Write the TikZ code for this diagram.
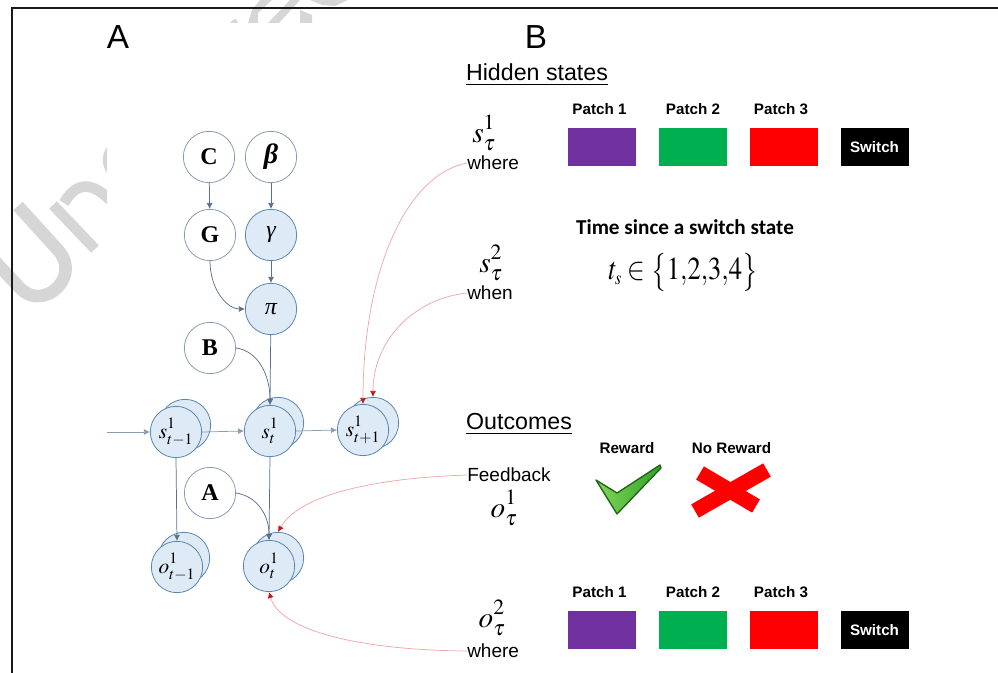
\documentclass[tikz,border=0pt]{standalone}
\usepackage{mathptmx}
\usepackage{graphicx}
\usepackage{fontspec}
\setmainfont{Liberation Sans}
\newfontfamily\timesf{Liberation Serif}
\newfontfamily\calif{Carlito}
\usetikzlibrary{arrows.meta}
\definecolor{nodeline}{HTML}{8A9BB4}
\definecolor{stateline}{HTML}{5B86AE}
\definecolor{statefill}{HTML}{DEEAF6}
\definecolor{wireblue}{HTML}{5C6F8C}
\definecolor{wirered}{HTML}{F2A5A5}
\definecolor{tipred}{HTML}{C81818}
\definecolor{markgray}{HTML}{D6D6D6}
\newcommand{\supsub}[3]{$#1^{\raisebox{.1em}{$\scriptstyle #2$}}_{\raisebox{-.02em}{$\scriptstyle #3$}}$}
\tikzset{
	plainnode/.style={shape=circle, draw=nodeline, fill=white, line width=0.6pt, minimum size=38.5pt, inner sep=0pt, font=\timesf\fontsize{18}{20}\selectfont\bfseries},
	statenode/.style={plainnode, draw=stateline, fill=statefill, font=\fontsize{16}{18}\selectfont},
	wire/.style={draw=wireblue, line width=0.55pt, -{Latex[length=4.5pt,width=4.5pt]}},
	redwire/.style={draw=wirered, line width=0.55pt, -{Latex[color=tipred,length=4.5pt,width=4.5pt]}},
	patchbox/.style={shape=rectangle, minimum width=51pt, minimum height=28.5pt, inner sep=0pt},
	boldlabel/.style={font=\fontsize{11.4}{14}\selectfont\bfseries, inner sep=0pt},
	bodylabel/.style={font=\fontsize{14.25}{17}\selectfont, inner sep=0pt},
	mathlabel/.style={font=\fontsize{22}{25}\selectfont, inner sep=0pt},
	headlabel/.style={font=\fontsize{17.4}{21}\selectfont, inner sep=0pt},
	paneltag/.style={font=\fontsize{25}{30}\selectfont, inner sep=0pt}
}
\begin{document}
\begin{tikzpicture}[x=0.75pt, y=-0.75pt]
	\useasboundingbox (0,0) rectangle (998,673);
	% Background marks and frame:
	\begin{scope}
		\clip (0,120) rectangle (107,320);
		\draw[markgray, line width=9.5pt] (18,206) -- (58,250) .. controls (74,268) and (62,288) .. (48,294) .. controls (36,299) and (26,295) .. (18,286) -- (-12,254);
		\draw[markgray, line width=8pt] (53,205) -- (95,249);
		\draw[markgray, line width=8pt] (64,203) .. controls (74,186) and (88,178) .. (110,200);
		\fill[markgray] (107,147) .. controls (101,155) and (102,166) .. (107,173) -- cycle;
	\end{scope}
	\fill[markgray] (230,23) -- (233,20) -- (236,19) -- (238,23) -- cycle;
	\fill[markgray] (248,23) -- (252,10) -- (260,0) -- (272,0) -- (258,13) -- (258,23) -- cycle;
	\fill[markgray] (268,23) -- (290,0) -- (300,0) -- (279,23) -- cycle;
	\fill[markgray] (300,10) -- (312,15) -- (312,23) -- (300,23) -- cycle;
	\fill[markgray] (310,0) -- (348,0) -- (335,6) -- (322,5) -- cycle;
	\draw[black!90, line width=1.1pt] (998,8) -- (12,8) -- (12,673);
	% Nodes:
	\node[paneltag] (TagA) at (118,37) {A};
	\node[paneltag] (TagB) at (536,37) {B};
	\node[plainnode] (NC) at (209,157) {C};
	\node[plainnode, font=\timesf\fontsize{21}{24}\selectfont\bfseries\itshape] (Nbeta) at (271,157) {β};
	\node[plainnode] (NG) at (210,235) {G};
	\node[statenode, font=\timesf\fontsize{18}{20}\selectfont\itshape] (Ngamma) at (271,235) {γ};
	\node[statenode, font=\timesf\fontsize{18}{20}\selectfont\itshape] (Npi) at (271,309) {π};
	\node[plainnode] (NB) at (210,348) {B};
	\node[plainnode] (NA) at (210,493) {A};
	\node[statenode] (S1b) at (185,425) {};
	\node[statenode] (S1) at (176,432) {\supsub{s}{1}{t-1}};
	\node[statenode] (S2b) at (278,423) {};
	\node[statenode] (S2) at (270,431) {\supsub{s}{1}{t}};
	\node[statenode] (S3b) at (373,423) {};
	\node[statenode] (S3) at (363,430) {\supsub{s}{1}{t+1}};
	\node[statenode] (O1b) at (184,558) {};
	\node[statenode] (O1) at (177,567) {\supsub{o}{1}{t-1}};
	\node[statenode] (O2b) at (278,558) {};
	\node[statenode] (O2) at (269,566) {\supsub{o}{1}{t}};
	\coordinate (Sin) at (107,432);
	\node[headlabel] (Hhidden) at (537,75) {\underline{Hidden states}};
	\node[headlabel] (Houtcomes) at (519,424) {\underline{Outcomes}};
	\node[mathlabel] (Ls1) at (484,133) {\supsub{s}{1}{\tau}};
	\node[bodylabel, anchor=west] (Lwhere1) at (467,163) {where};
	\node[mathlabel] (Ls2) at (491,263) {\supsub{s}{2}{\tau}};
	\node[bodylabel, anchor=west] (Lwhen) at (467,293) {when};
	\node[bodylabel, anchor=west] (Lfeed) at (467,475) {Feedback};
	\node[mathlabel] (Lo1) at (504,508) {\supsub{o}{1}{\tau}};
	\node[mathlabel] (Lo2) at (492,618) {\supsub{o}{2}{\tau}};
	\node[bodylabel, anchor=west] (Lwhere2) at (467,651) {where};
	\node[boldlabel] (P1) at (599.5,109) {Patch 1};
	\node[boldlabel] (P2) at (693,109) {Patch 2};
	\node[boldlabel] (P3) at (781,109) {Patch 3};
	\node[patchbox, fill={rgb,255:red,112;green,48;blue,160}] (R1) at (602,147) {};
	\node[patchbox, fill={rgb,255:red,0;green,176;blue,80}] (R2) at (692.5,147) {};
	\node[patchbox, fill=red] (R3) at (783.5,147) {};
	\node[patchbox, fill=black, text=white, font=\fontsize{11.4}{14}\selectfont\bfseries] (R4) at (874.5,147) {Switch};
	\node[boldlabel] (P4) at (599.5,592) {Patch 1};
	\node[boldlabel] (P5) at (693,592) {Patch 2};
	\node[boldlabel] (P6) at (781,592) {Patch 3};
	\node[patchbox, fill={rgb,255:red,112;green,48;blue,160}] (R5) at (602,630) {};
	\node[patchbox, fill={rgb,255:red,0;green,176;blue,80}] (R6) at (692.5,630) {};
	\node[patchbox, fill=red] (R7) at (783.5,630) {};
	\node[patchbox, fill=black, text=white, font=\fontsize{11.4}{14}\selectfont\bfseries] (R8) at (874.5,630) {Switch};
	\node[font=\calif\fontsize{15.9}{18}\selectfont\bfseries, inner sep=0pt] (Ltime) at (685,227) {Time since a switch state};
	\node[font=\fontsize{24}{28}\selectfont, inner sep=0pt] (Lset) at (683,272) {\scalebox{.83}[1]{$t_{\scriptscriptstyle s}\in\bigl\{1{,}2{,}3{,}4\bigr\}$}};
	\node[boldlabel] (Lrew) at (627,448) {Reward};
	\node[boldlabel] (Lnorew) at (731.5,448) {No Reward};
	% Tick and cross:
	\shade[draw={rgb,255:red,30;green,100;blue,20}, line width=1pt, line join=round, left color={rgb,255:red,130;green,215;blue,90}, right color={rgb,255:red,50;green,160;blue,40}] (596,480) -- (617,493) -- (660,465) -- (661,468) -- (617,514) -- cycle;
	\draw[red, line width=11.5pt] (700,473) -- (756,506);
	\draw[red, line width=11.5pt] (767,470) -- (695,511);
	% Wires:
	\draw[wire] (NC) -- (NG);
	\draw[wire] (Nbeta) -- (Ngamma);
	\draw[wire] (Ngamma) -- (Npi);
	\draw[wire] (NG.south) .. controls +(0,28) and +(-18,0) .. (Npi.west);
	\draw[wire] (Npi) -- (S2.north);
	\draw[wire] (NB.east) .. controls +(22,3) and +(0,-30) .. (S2.north);
	\draw[wire, draw=nodeline] (Sin) -- (S1.west);
	\draw[wire, draw=nodeline] (S1.east) -- (S2.west);
	\draw[wire, draw=nodeline] (S2.east) -- (S3.west);
	\draw[wire] (S1.south) -- (O1.north);
	\draw[wire] (S2.south) -- (O2.north);
	\draw[wire] (NA.east) .. controls +(20,3) and +(0,-26) .. (O2.north);
	\draw[redwire] (Lwhere1.west) .. controls +(-62,12) and +(0,-130) .. (S3.north);
	\draw[redwire] (Lwhen.west) .. controls +(-55,6) and +(0,-55) .. (S3b.north);
	\draw[redwire] (Lfeed.west) .. controls +(-90,3) and +(22,-38) .. (O2b.north);
	\draw[redwire] (Lwhere2.west) .. controls +(-110,-1) and +(11,38) .. (O2.south);
\end{tikzpicture}
\end{document}
